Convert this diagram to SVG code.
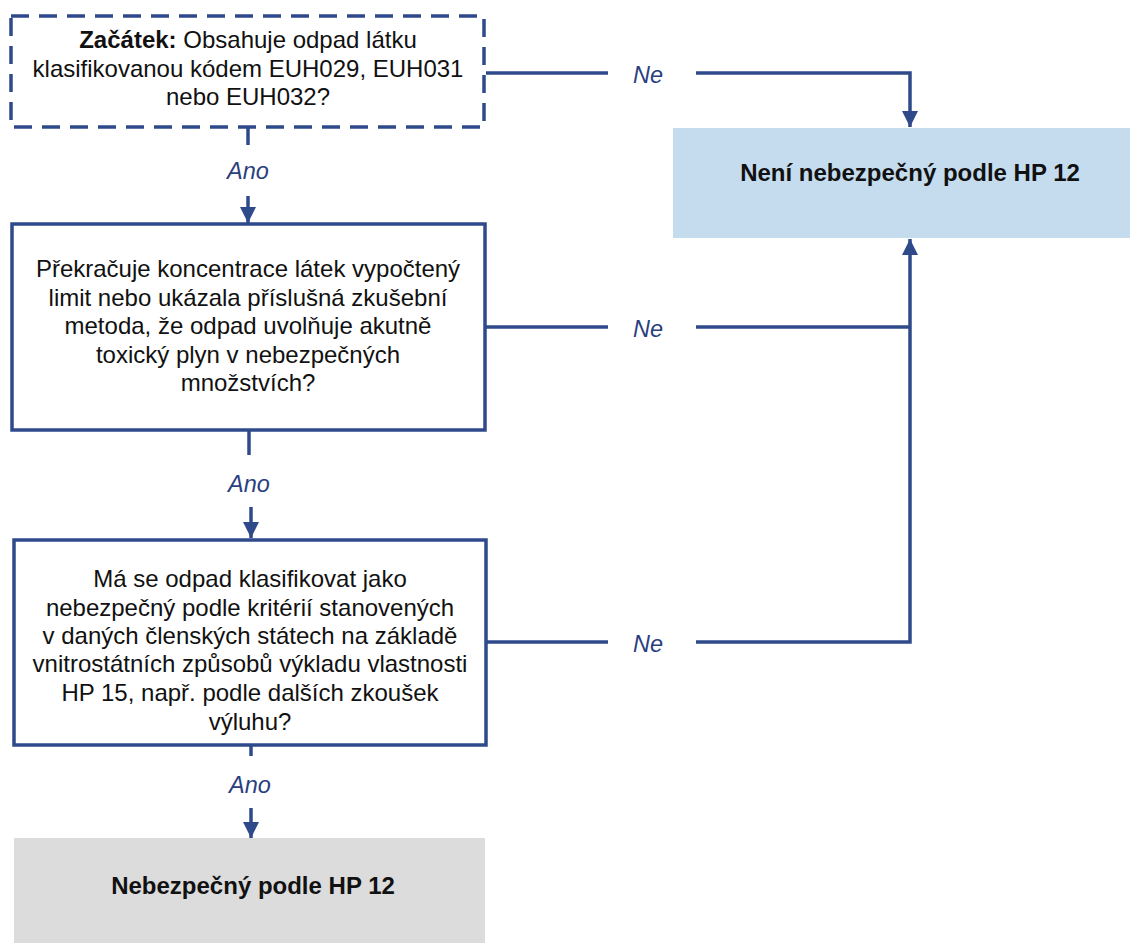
<svg xmlns="http://www.w3.org/2000/svg" width="1130" height="943" viewBox="0 0 1130 943">
  <style>
    .box { fill: #ffffff; stroke: #2f4a8b; stroke-width: 3.5; }
    .dash { stroke-dasharray: 18 10; }
    .txt { font-family: "Liberation Sans", Arial, sans-serif; font-size: 24px; fill: #111111; text-anchor: middle; }
    .bold { font-weight: bold; }
    .lbl { font-family: "Liberation Sans", Arial, sans-serif; font-size: 23.5px; font-style: italic; fill: #2b3f80; text-anchor: middle; }
    .wire { fill: none; stroke: #2f4a8b; stroke-width: 3.5; }
  </style>
  <defs>
    <marker id="arrow" markerUnits="userSpaceOnUse" markerWidth="16" markerHeight="16" viewBox="0 0 16 16" refX="16" refY="8" orient="auto">
      <path d="M0,0 L16,8 L0,16 z" fill="#2f4a8b"/>
    </marker>
  </defs>

  <rect width="1130" height="943" fill="#ffffff"/>

  <!-- start question -->
  <g id="start">
    <rect class="box dash" x="11" y="16" width="473" height="111"/>
    <text class="txt" x="248" y="48"><tspan class="bold">Začátek:</tspan> Obsahuje odpad látku</text>
    <text class="txt" x="248" y="77">klasifikovanou kódem EUH029, EUH031</text>
    <text class="txt" x="248" y="105">nebo EUH032?</text>
  </g>

  <!-- second question -->
  <g id="q2">
    <rect class="box" x="12" y="224" width="473" height="206"/>
    <text class="txt" x="248" y="277">Překračuje koncentrace látek vypočtený</text>
    <text class="txt" x="248" y="306">limit nebo ukázala příslušná zkušební</text>
    <text class="txt" x="248" y="334">metoda, že odpad uvolňuje akutně</text>
    <text class="txt" x="248" y="363">toxický plyn v nebezpečných</text>
    <text class="txt" x="248" y="391">množstvích?</text>
  </g>

  <!-- third question -->
  <g id="q3">
    <rect class="box" x="14" y="540" width="472" height="205"/>
    <text class="txt" x="250" y="587">Má se odpad klasifikovat jako</text>
    <text class="txt" x="250" y="616">nebezpečný podle kritérií stanovených</text>
    <text class="txt" x="250" y="644">v daných členských státech na základě</text>
    <text class="txt" x="250" y="672">vnitrostátních způsobů výkladu vlastnosti</text>
    <text class="txt" x="250" y="701">HP 15, např. podle dalších zkoušek</text>
    <text class="txt" x="250" y="730">výluhu?</text>
  </g>

  <!-- outcome: not hazardous -->
  <g id="not-hazardous">
    <rect x="673" y="128" width="457" height="110" fill="#c5dcef"/>
    <text class="txt bold" x="910" y="181">Není nebezpečný podle HP 12</text>
  </g>

  <!-- outcome: hazardous -->
  <g id="hazardous">
    <rect x="14" y="838" width="471" height="105" fill="#dcdcdc"/>
    <text class="txt bold" x="253" y="894">Nebezpečný podle HP 12</text>
  </g>

  <!-- connectors -->
  <g id="connectors">
    <!-- Ano paths -->
    <line class="wire" x1="248" y1="127" x2="248" y2="145"/>
    <line class="wire" x1="248" y1="196" x2="248" y2="223" marker-end="url(#arrow)"/>
    <line class="wire" x1="249" y1="430" x2="249" y2="455"/>
    <line class="wire" x1="251" y1="507" x2="251" y2="538" marker-end="url(#arrow)"/>
    <line class="wire" x1="251" y1="745" x2="251" y2="756"/>
    <line class="wire" x1="251" y1="808" x2="251" y2="838" marker-end="url(#arrow)"/>

    <!-- Ne paths -->
    <line class="wire" x1="486" y1="73" x2="608" y2="73"/>
    <polyline class="wire" points="696,73 910,73 910,127" marker-end="url(#arrow)"/>
    <line class="wire" x1="485" y1="327" x2="608" y2="327"/>
    <line class="wire" x1="696" y1="327" x2="910" y2="327"/>
    <line class="wire" x1="487" y1="642" x2="608" y2="642"/>
    <polyline class="wire" points="696,642 910,642 910,239" marker-end="url(#arrow)"/>

    <!-- labels -->
    <text class="lbl" x="248" y="179">Ano</text>
    <text class="lbl" x="249" y="492">Ano</text>
    <text class="lbl" x="250" y="793">Ano</text>
    <text class="lbl" x="648" y="83">Ne</text>
    <text class="lbl" x="648" y="337">Ne</text>
    <text class="lbl" x="648" y="652">Ne</text>
  </g>
</svg>
